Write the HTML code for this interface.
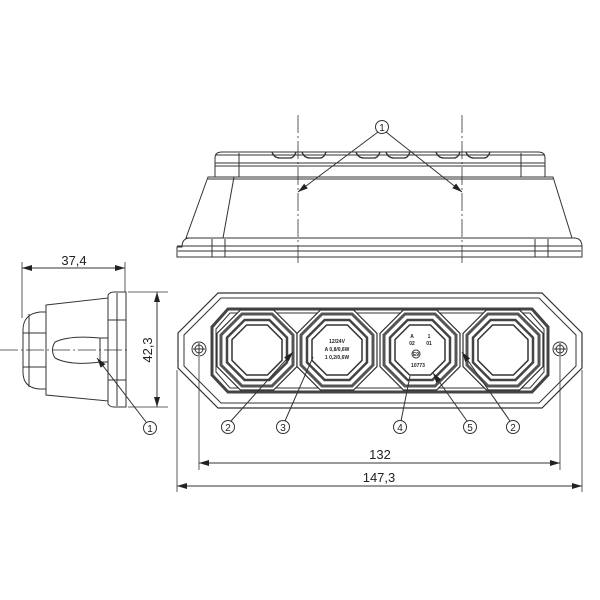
<!DOCTYPE html>
<html><head><style>html,body{margin:0;padding:0;background:#fff}svg{display:block}text{font-family:"Liberation Sans",sans-serif;fill:#222}</style></head>
<body>
<svg width="600" height="600" viewBox="0 0 600 600" xmlns="http://www.w3.org/2000/svg">
<defs>
<marker id="a" viewBox="0 0 10 6" refX="10" refY="3" markerWidth="10" markerHeight="6" orient="auto-start-reverse" markerUnits="userSpaceOnUse"><path d="M0,0L10,3L0,6z" fill="#222"/></marker>
<g id="lens">
<polygon points="-40,-16.6 -16.6,-40 16.6,-40 40,-16.6 40,16.6 16.6,40 -16.6,40 -40,16.6" fill="#fff" stroke="#333" stroke-width="1.2"/>
<polygon points="-36,-15 -15,-36 15,-36 36,-15 36,15 15,36 -15,36 -36,15" fill="none" stroke="#555" stroke-width="3"/>
<polygon points="-30,-12.4 -12.4,-30 12.4,-30 30,-12.4 30,12.4 12.4,30 -12.4,30 -30,12.4" fill="none" stroke="#444" stroke-width="2.5"/>
<polygon points="-25,-10.4 -10.4,-25 10.4,-25 25,-10.4 25,10.4 10.4,25 -10.4,25 -25,10.4" fill="#fff" stroke="#333" stroke-width="1.5"/>
</g>
</defs>
<g fill="none" stroke="#333" stroke-width="1">
<!-- TOP VIEW -->
<path d="M215,177 L215,158 Q215,152 222,152 L538,152 Q545,152 545,158 L545,177"/>
<line x1="215" y1="155" x2="545" y2="155"/>
<line x1="215" y1="163" x2="545" y2="163"/>
<line x1="215" y1="166" x2="545" y2="166"/>
<line x1="239" y1="153" x2="239" y2="177"/><line x1="521" y1="153" x2="521" y2="177"/>
<path d="M272,152 q2,6 8,6 h10 q4,0 6,-6 M302,152 q2,6 8,6 h10 q4,0 6,-6 M356,152 q2,6 8,6 h10 q4,0 6,-6 M386,152 q2,6 8,6 h10 q4,0 6,-6 M436,152 q2,6 8,6 h10 q4,0 6,-6 M466,152 q2,6 8,6 h10 q4,0 6,-6" stroke-width="1.3"/>
<path d="M208,177 L553,177 L572,238 L186,238 Z"/>
<line x1="208" y1="179" x2="553" y2="179"/>
<line x1="234" y1="177" x2="223" y2="238"/>
<path d="M182,247 Q182,238 190,238 L574,238 Q582,238 582,247 L582,257 L177,257 L177,247 Z"/>
<line x1="177" y1="246" x2="582" y2="246"/>
<line x1="178" y1="251" x2="581" y2="251"/>
<line x1="212" y1="239" x2="212" y2="257"/><line x1="225" y1="239" x2="225" y2="257"/>
<line x1="535" y1="239" x2="535" y2="257"/><line x1="548" y1="239" x2="548" y2="257"/>
<line x1="298" y1="115" x2="298" y2="266" stroke-dasharray="18,3,2,3" stroke-width="0.8"/>
<line x1="462" y1="115" x2="462" y2="266" stroke-dasharray="18,3,2,3" stroke-width="0.8"/>
<circle cx="382" cy="127" r="6.5"/>
<line x1="378" y1="132" x2="298" y2="192" marker-end="url(#a)"/>
<line x1="386" y1="132" x2="462" y2="192" marker-end="url(#a)"/>

<!-- SIDE VIEW -->
<line x1="0" y1="350" x2="130" y2="350" stroke-dasharray="18,3,2,3" stroke-width="0.8"/>
<path d="M46,312 L40,312 Q23,314 23,330 L23,372 Q23,388 40,389 L46,389"/>
<line x1="29" y1="314" x2="29" y2="387"/>
<line x1="23" y1="333" x2="46" y2="333"/><line x1="23" y1="367" x2="46" y2="367"/>
<path d="M46,305 L108,298 L108,401 L46,395 Z"/>
<path d="M46,312 L46,389"/>
<path d="M55,342 Q70,335 100,338 L100,362 Q70,366 55,358 Q50,350 55,342 Z"/>
<line x1="100" y1="338" x2="108" y2="338"/><line x1="100" y1="362" x2="108" y2="362"/>
<path d="M108,295 Q110,292 114,292 L126,292 L126,407 L114,407 Q110,407 108,404 Z"/>
<line x1="117" y1="293" x2="117" y2="406"/>
<line x1="108" y1="320" x2="126" y2="320"/><line x1="108" y1="380" x2="126" y2="380"/>
<line x1="22" y1="262" x2="22" y2="318" stroke-width="0.8"/>
<line x1="125" y1="262" x2="125" y2="292" stroke-width="0.8"/>
<line x1="22" y1="268" x2="125" y2="268" marker-start="url(#a)" marker-end="url(#a)"/>
<circle cx="150" cy="428" r="6.5"/>
<line x1="146" y1="422" x2="97" y2="358" marker-end="url(#a)"/>
<line x1="128" y1="292" x2="168" y2="292" stroke-width="0.8"/>
<line x1="128" y1="407" x2="168" y2="407" stroke-width="0.8"/>
<line x1="157" y1="292" x2="157" y2="407" marker-start="url(#a)" marker-end="url(#a)"/>

<!-- FRONT VIEW -->
<path d="M218,293 L542,293 L582,333 L582,368 L542,408 L218,408 L178,368 L178,333 Z" stroke-width="1.2"/>
<path d="M221,298 L539,298 L576,335 L576,366 L539,403 L221,403 L184,366 L184,335 Z"/>
<path d="M228,309 L532,309 L548,327 L548,375 L532,392 L228,392 L212,375 L212,327 Z" stroke-width="3" stroke="#444"/>
<path d="M230,313 L530,313 L544,329 L544,372 L530,388 L230,388 L216,372 L216,329 Z"/>
<use href="#lens" x="257" y="350"/>
<use href="#lens" x="337" y="350"/>
<use href="#lens" x="420" y="350"/>
<use href="#lens" x="503" y="350"/>
<circle cx="199" cy="349" r="7"/><circle cx="199" cy="349" r="4"/>
<line x1="193" y1="349" x2="205" y2="349"/><line x1="199" y1="343" x2="199" y2="355"/>
<circle cx="560" cy="349" r="7"/><circle cx="560" cy="349" r="4"/>
<line x1="554" y1="349" x2="566" y2="349"/><line x1="560" y1="343" x2="560" y2="355"/>
<circle cx="416" cy="354" r="4"/>
<!-- leaders -->
<circle cx="228" cy="427" r="6.5"/><line x1="231" y1="421" x2="293" y2="352" marker-end="url(#a)"/>
<circle cx="283" cy="427" r="6.5"/><line x1="285" y1="421" x2="313" y2="357"/>
<circle cx="400" cy="427" r="6.5"/><line x1="401" y1="421" x2="410" y2="376"/>
<circle cx="470" cy="427" r="6.5"/><line x1="467" y1="421" x2="433" y2="373" marker-end="url(#a)"/>
<circle cx="513" cy="427" r="6.5"/><line x1="510" y1="421" x2="462" y2="352" marker-end="url(#a)"/>
<!-- dims -->
<line x1="199" y1="357" x2="199" y2="470" stroke-width="0.8"/>
<line x1="560" y1="357" x2="560" y2="470" stroke-width="0.8"/>
<line x1="177" y1="370" x2="177" y2="492" stroke-width="0.8"/>
<line x1="582" y1="370" x2="582" y2="492" stroke-width="0.8"/>
<line x1="199" y1="463" x2="560" y2="463" marker-start="url(#a)" marker-end="url(#a)"/>
<line x1="177" y1="486" x2="582" y2="486" marker-start="url(#a)" marker-end="url(#a)"/>
</g>
<g font-size="13" text-anchor="middle">
<text x="74" y="265">37,4</text>
<text x="380" y="459">132</text>
<text x="379" y="482">147,3</text>
<text transform="translate(152,350) rotate(-90)">42,3</text>
</g>
<g font-size="10" text-anchor="middle">
<text x="382" y="131">1</text>
<text x="150" y="432">1</text>
<text x="228" y="431">2</text>
<text x="283" y="431">3</text>
<text x="400" y="431">4</text>
<text x="470" y="431">5</text>
<text x="513" y="431">2</text>
</g>
<g font-size="5" text-anchor="middle" font-weight="bold">
<text x="337" y="343">12/24V</text>
<text x="337" y="351">A 0,8/0,6W</text>
<text x="337" y="359">1 0,2/0,6W</text>
<text x="412" y="338">A</text><text x="429" y="338">1</text>
<text x="412" y="345">02</text><text x="429" y="345">01</text>
<text x="416" y="356">E9</text>
<text x="418" y="367">10773</text>
</g>
</svg>
</body></html>
